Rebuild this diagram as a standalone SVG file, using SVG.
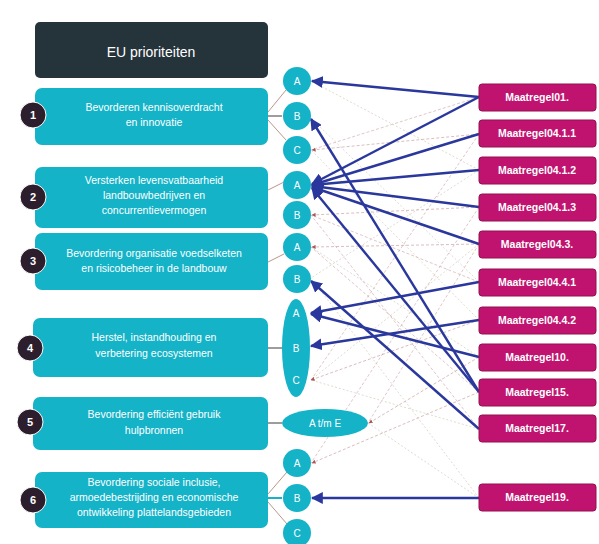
<svg xmlns="http://www.w3.org/2000/svg" width="599" height="544" viewBox="0 0 599 544">
<defs>
<marker id="ab" viewBox="0 0 10 10" refX="9" refY="5" markerWidth="5" markerHeight="5" orient="auto-start-reverse"><path d="M0,0 L10,5 L0,10 z" fill="#2a379c"/></marker>
<marker id="ar" viewBox="0 0 10 10" refX="9" refY="5" markerWidth="5" markerHeight="5" orient="auto"><path d="M0,0 L10,5 L0,10 z" fill="#9a2a2a"/></marker>
</defs>
<style>
.hdr{fill:#25333b}
.pb{fill:#14b3c8}
.pt{fill:#ffffff;font-family:"Liberation Sans",Arial,sans-serif;font-size:10.5px;text-anchor:middle}
.num{fill:#2c1e2c;stroke:#ffffff;stroke-width:1}
.nt{fill:#ffffff;font-family:"Liberation Sans",Arial,sans-serif;font-size:11px;font-weight:bold;text-anchor:middle}
.c{fill:#14b3c8}
.ct{fill:#ffffff;font-family:"Liberation Sans",Arial,sans-serif;font-size:10px;text-anchor:middle}
.m{fill:#c0136f;stroke:#94104f;stroke-width:1}
.mt{fill:#ffffff;font-family:"Liberation Sans",Arial,sans-serif;font-size:10.5px;font-weight:bold;text-anchor:middle}
.blue{stroke:#2a379c;stroke-width:2.4;fill:none;marker-end:url(#ab)}
.faint{stroke:#c79a9a;stroke-width:0.8;stroke-dasharray:3 2;fill:none;opacity:0.7}
.faintg{stroke:#b9b39a;stroke-width:0.8;stroke-dasharray:2 2;fill:none;opacity:0.6}
.red{stroke:#c79a9a;stroke-width:0.8;stroke-dasharray:3 2;fill:none;opacity:0.8;marker-end:url(#ar)}
.short{stroke:#3a3a3a;stroke-width:1;fill:none}
.fan{stroke:#b08a80;stroke-width:0.9;fill:none}
</style>
<rect width="599" height="544" fill="#ffffff"/>

<g id="connectors">
<line class="faintg" x1="479" y1="282" x2="311" y2="118"/>
<line class="faintg" x1="479" y1="170" x2="311" y2="278"/>
<line class="faint" x1="479" y1="429" x2="311" y2="215"/>
<line class="faintg" x1="479" y1="244" x2="311" y2="380"/>
<line class="faint" x1="479" y1="97" x2="311" y2="150"/>
<line class="faintg" x1="479" y1="357" x2="311" y2="247"/>
<line class="faint" x1="479" y1="207" x2="311" y2="463"/>
<line class="faintg" x1="479" y1="498" x2="368" y2="423"/>
<line class="faint" x1="479" y1="134" x2="311" y2="380"/>
<line class="faintg" x1="479" y1="320" x2="311" y2="150"/>
<line class="faint" x1="479" y1="392" x2="311" y2="247"/>
<line class="faintg" x1="479" y1="498" x2="311" y2="278"/>
<line class="faint" x1="479" y1="244" x2="368" y2="423"/>
<line class="faintg" x1="479" y1="170" x2="311" y2="81"/>
<line class="faint" x1="479" y1="282" x2="311" y2="215"/>
<line class="faintg" x1="479" y1="429" x2="311" y2="380"/>
<line class="red" x1="479" y1="134" x2="312" y2="150"/>
<line class="red" x1="479" y1="207" x2="312" y2="215"/>
<line class="red" x1="479" y1="244" x2="312" y2="247"/>
<line class="red" x1="479" y1="320" x2="311" y2="380"/>
<line class="red" x1="479" y1="357" x2="369" y2="423"/>
<line class="red" x1="479" y1="392" x2="312" y2="463"/>
<line class="short" x1="268" y1="116" x2="282" y2="116"/>
<line class="fan" x1="268" y1="112" x2="286" y2="90"/>
<line class="fan" x1="268" y1="120" x2="286" y2="140"/>
<line class="fan" x1="268" y1="190" x2="284" y2="182"/>
<line class="fan" x1="268" y1="262" x2="284" y2="254"/>
<line class="short" x1="268" y1="348" x2="282" y2="348"/>
<line class="short" x1="268" y1="423" x2="282" y2="423"/>
<line class="short" x1="268" y1="498" x2="282" y2="498" style="stroke:#14b3c8;stroke-width:2"/>
<line class="fan" x1="268" y1="494" x2="287" y2="472"/>
<line class="fan" x1="268" y1="502" x2="287" y2="524"/>
<line class="blue" x1="479" y1="97" x2="312" y2="81"/>
<line class="blue" x1="479" y1="97" x2="312" y2="184"/>
<line class="blue" x1="479" y1="134" x2="312" y2="185"/>
<line class="blue" x1="479" y1="170" x2="312" y2="185"/>
<line class="blue" x1="479" y1="207" x2="312" y2="186"/>
<line class="blue" x1="479" y1="244" x2="312" y2="187"/>
<line class="blue" x1="479" y1="392" x2="311" y2="119"/>
<line class="blue" x1="479" y1="392" x2="312" y2="188"/>
<line class="blue" x1="479" y1="282" x2="311" y2="313"/>
<line class="blue" x1="479" y1="357" x2="311" y2="314"/>
<line class="blue" x1="479" y1="320" x2="311" y2="346"/>
<line class="blue" x1="479" y1="429" x2="311" y2="281"/>
<line class="blue" x1="479" y1="498" x2="312" y2="498"/>
</g>

<g id="header">
<rect class="hdr" x="35" y="22" width="233" height="56" rx="5"/>
<text x="151" y="57" fill="#ffffff" font-family="Liberation Sans, Arial, sans-serif" font-size="14" text-anchor="middle">EU prioriteiten</text>
</g>

<g id="p1">
<rect class="pb" x="35" y="88" width="233" height="57" rx="7"/>
<text class="pt" x="154" y="111">Bevorderen kennisoverdracht</text>
<text class="pt" x="154" y="126">en innovatie</text>
<circle class="num" cx="33" cy="115" r="13"/>
<text class="nt" x="33" y="119">1</text>
</g>
<g id="p2">
<rect class="pb" x="35" y="167" width="233" height="61" rx="7"/>
<text class="pt" x="154" y="184">Versterken levensvatbaarheid</text>
<text class="pt" x="154" y="199">landbouwbedrijven en</text>
<text class="pt" x="154" y="214">concurrentievermogen</text>
<circle class="num" cx="33" cy="197" r="13"/>
<text class="nt" x="33" y="201">2</text>
</g>
<g id="p3">
<rect class="pb" x="35" y="233" width="233" height="57" rx="7"/>
<text class="pt" x="154" y="257">Bevordering organisatie voedselketen</text>
<text class="pt" x="154" y="272">en risicobeheer in de landbouw</text>
<circle class="num" cx="33" cy="261" r="13"/>
<text class="nt" x="33" y="265">3</text>
</g>
<g id="p4">
<rect class="pb" x="33" y="318" width="235" height="59" rx="7"/>
<text class="pt" x="154" y="341">Herstel, instandhouding en</text>
<text class="pt" x="154" y="357">verbetering ecosystemen</text>
<circle class="num" cx="30" cy="348" r="13"/>
<text class="nt" x="30" y="352">4</text>
</g>
<g id="p5">
<rect class="pb" x="33" y="397" width="235" height="53" rx="7"/>
<text class="pt" x="154" y="418">Bevordering efficiënt gebruik</text>
<text class="pt" x="154" y="434">hulpbronnen</text>
<circle class="num" cx="30" cy="422" r="13"/>
<text class="nt" x="30" y="426">5</text>
</g>
<g id="p6">
<rect class="pb" x="35" y="472" width="233" height="56" rx="7"/>
<text class="pt" x="154" y="486">Bevordering sociale inclusie,</text>
<text class="pt" x="154" y="501">armoedebestrijding en economische</text>
<text class="pt" x="154" y="516">ontwikkeling plattelandsgebieden</text>
<circle class="num" cx="33" cy="500" r="13"/>
<text class="nt" x="33" y="504">6</text>
</g>

<g id="c1a"><circle class="c" cx="297" cy="81" r="14"/><text class="ct" x="297" y="85">A</text></g>
<g id="c1b"><circle class="c" cx="297" cy="116" r="14"/><text class="ct" x="297" y="120">B</text></g>
<g id="c1c"><circle class="c" cx="297" cy="150" r="14"/><text class="ct" x="297" y="154">C</text></g>
<g id="c2a"><circle class="c" cx="297" cy="185" r="14"/><text class="ct" x="297" y="189">A</text></g>
<g id="c2b"><circle class="c" cx="297" cy="215" r="14"/><text class="ct" x="297" y="219">B</text></g>
<g id="c3a"><circle class="c" cx="297" cy="247" r="14"/><text class="ct" x="297" y="251">A</text></g>
<g id="c3b"><circle class="c" cx="297" cy="279" r="14"/><text class="ct" x="297" y="283">B</text></g>
<g id="c4">
<ellipse class="c" cx="296" cy="348" rx="14" ry="49"/>
<text class="ct" x="296" y="317">A</text>
<text class="ct" x="296" y="352">B</text>
<text class="ct" x="296" y="384">C</text>
</g>
<g id="c5"><ellipse class="c" cx="325" cy="423" rx="43" ry="14"/><text class="ct" x="325" y="427">A t/m E</text></g>
<g id="c6a"><circle class="c" cx="297" cy="463" r="14"/><text class="ct" x="297" y="467">A</text></g>
<g id="c6b"><circle class="c" cx="297" cy="498" r="14"/><text class="ct" x="297" y="502">B</text></g>
<g id="c6c"><circle class="c" cx="297" cy="533" r="14"/><text class="ct" x="297" y="537">C</text></g>

<g id="m01"><rect class="m" x="479" y="84" width="117" height="27" rx="3"/><text class="mt" x="537" y="101">Maatregel01.</text></g>
<g id="m0411"><rect class="m" x="479" y="120" width="117" height="27" rx="3"/><text class="mt" x="537" y="137">Maatregel04.1.1</text></g>
<g id="m0412"><rect class="m" x="479" y="157" width="117" height="27" rx="3"/><text class="mt" x="537" y="174">Maatregel04.1.2</text></g>
<g id="m0413"><rect class="m" x="479" y="194" width="117" height="27" rx="3"/><text class="mt" x="537" y="211">Maatregel04.1.3</text></g>
<g id="m043"><rect class="m" x="479" y="231" width="117" height="27" rx="3"/><text class="mt" x="537" y="248">Maatregel04.3.</text></g>
<g id="m0441"><rect class="m" x="479" y="269" width="117" height="27" rx="3"/><text class="mt" x="537" y="286">Maatregel04.4.1</text></g>
<g id="m0442"><rect class="m" x="479" y="307" width="117" height="27" rx="3"/><text class="mt" x="537" y="324">Maatregel04.4.2</text></g>
<g id="m10"><rect class="m" x="479" y="344" width="117" height="27" rx="3"/><text class="mt" x="537" y="361">Maatregel10.</text></g>
<g id="m15"><rect class="m" x="479" y="379" width="117" height="27" rx="3"/><text class="mt" x="537" y="396">Maatregel15.</text></g>
<g id="m17"><rect class="m" x="479" y="415" width="117" height="27" rx="3"/><text class="mt" x="537" y="432">Maatregel17.</text></g>
<g id="m19"><rect class="m" x="479" y="484" width="117" height="27" rx="3"/><text class="mt" x="537" y="501">Maatregel19.</text></g>
</svg>
